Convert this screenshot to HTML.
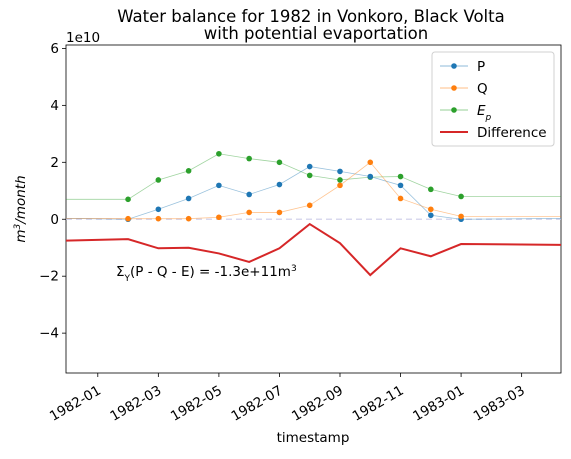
<!DOCTYPE html>
<html><head><meta charset="utf-8"><style>
body{margin:0;background:#fff;}
svg{font-family:"DejaVu Sans","Liberation Sans",sans-serif;}
</style></head><body>
<svg id="chart" width="571" height="454" viewBox="0 0 571 454">
<text x="311" y="22" text-anchor="middle" font-size="16.5">Water balance for 1982 in Vonkoro, Black Volta</text>
<text x="316" y="39" text-anchor="middle" font-size="16.5">with potential evaportation</text>
<text x="66" y="42" font-size="13.5">1e10</text>
<text transform="translate(25,209) rotate(-90)" text-anchor="middle" font-size="13.5" font-style="italic">m<tspan baseline-shift="super" font-size="9">3</tspan>/month</text>
<text x="313" y="442" text-anchor="middle" font-size="13.5">timestamp</text>
<g id="axes"></g>
<g id="series"></g>
<text x="116" y="276" font-size="13.5">Σ<tspan font-size="9" baseline-shift="sub">Y</tspan>(P - Q - E) = -1.3e+11m<tspan baseline-shift="super" font-size="9">3</tspan></text>
<g>
<rect x="432" y="52" width="122" height="94" rx="3" fill="#fff" stroke="#ccc" opacity="0.9"/>
<g><line x1="440" y1="66" x2="468" y2="66" stroke="#1f77b4" stroke-width="0.5"/><circle cx="454" cy="66" r="2.8" fill="#1f77b4"/><text x="477" y="71" font-size="13.5">P</text></g>
<g><line x1="440" y1="88" x2="468" y2="88" stroke="#ff7f0e" stroke-width="0.5"/><circle cx="454" cy="88" r="2.8" fill="#ff7f0e"/><text x="477" y="93" font-size="13.5">Q</text></g>
<g><line x1="440" y1="110" x2="468" y2="110" stroke="#2ca02c" stroke-width="0.5"/><circle cx="454" cy="110" r="2.8" fill="#2ca02c"/><text x="477" y="115" font-size="13.5" font-style="italic">E<tspan font-size="9" baseline-shift="sub">p</tspan></text></g>
<g><line x1="440" y1="132" x2="468" y2="132" stroke="#d62728" stroke-width="2"/><text x="477" y="137" font-size="13.5">Difference</text></g>
</g>
</svg>
<script>
// months since 1982-01 (0 = Jan 1982)
const months = [1,2,3,4,5,6,7,8,9,10,11,12];
const pVals = [0.0,0.35,0.73,1.19,0.87,1.22,1.85,1.68,1.5,1.19,0.14,0.0];
const qVals = [0.02,0.02,0.02,0.07,0.24,0.24,0.49,1.19,2.0,0.73,0.35,0.1];
const epVals = [0.7,1.38,1.7,2.3,2.13,2.0,1.54,1.38,1.48,1.5,1.05,0.8];
const diffVals = [-0.7,-1.02,-1.0,-1.2,-1.5,-1.02,-0.17,-0.84,-1.96,-1.02,-1.3,-0.87];
const pEdges = [0.03,0.03];
const qEdges = [0.03,0.1];
const epEdges = [0.7,0.8];
const diffEdges = [-0.75,-0.9];
const yTicks = [-4,-2,0,2,4,6];
const xTickMonths = [0,2,4,6,8,10,12,14];
const xTickLabels = ["1982-01","1982-03","1982-05","1982-07","1982-09","1982-11","1983-01","1983-03"];
const L=66,R=561,T=45,B=373;
const xMin=-1.05, xMax=15.3, yMin=-5.4, yMax=6.12;
const x=m=>L+(m-xMin)/(xMax-xMin)*(R-L);
const y=v=>B-(v-yMin)/(yMax-yMin)*(B-T);
const NS="http://www.w3.org/2000/svg";
function mk(tag,attrs,parent){const e=document.createElementNS(NS,tag);for(const k in attrs)e.setAttribute(k,attrs[k]);parent.appendChild(e);return e;}
const ax=document.getElementById('axes'), sg=document.getElementById('series');
const frame=mk('rect',{x:L,y:T,width:R-L,height:B-T,fill:'none',stroke:'#000','stroke-width':0.8},ax);


yTicks.forEach(v=>{
  const t=mk('line',{x1:L-4,x2:L,y1:y(v),y2:y(v),stroke:'#000','stroke-width':0.8},ax);
  
  
  const tx=mk('text',{x:L-7,y:y(v)+4.5,'text-anchor':'end','font-size':13.5},ax);
  tx.textContent=(v<0?'\u2212':'')+Math.abs(v);
  
  
});
xTickMonths.forEach((m,i)=>{
  const t=mk('line',{x1:x(m),x2:x(m),y1:B,y2:B+4,stroke:'#000','stroke-width':0.8},ax);
  
  
  const tx=mk('text',{transform:`translate(${x(m)+4},${B+20}) rotate(-30)`,'text-anchor':'end','font-size':13.5},ax);
  tx.textContent=xTickLabels[i];
  
  
});
const zero=mk('line',{x1:L,x2:R,y1:y(0),y2:y(0),stroke:'#c8c8e8','stroke-width':1.5,'stroke-dasharray':'6,4',opacity:0.7},sg);


function series(vals,edges,color,w,dots,name){
  const pts=[[xMin,edges[0]]].concat(months.map((m,i)=>[m,vals[i]])).concat([[xMax,edges[1]]]);
  const pl=mk('polyline',{points:pts.map(p=>x(p[0])+','+y(p[1])).join(' '),fill:'none',stroke:color,'stroke-width':w,opacity:dots?0.45:1},sg);
  
  
  if(dots) months.forEach((m,i)=>{
    const c=mk('circle',{cx:x(m),cy:y(vals[i]),r:2.8,fill:color},sg);
    
    
  });
}
series(diffVals,diffEdges,'#d62728',2,false,'difference');
series(epVals,epEdges,'#2ca02c',0.8,true,'ep');
series(pVals,pEdges,'#1f77b4',0.8,true,'p');
series(qVals,qEdges,'#ff7f0e',0.8,true,'q');
</script>
</body></html>
